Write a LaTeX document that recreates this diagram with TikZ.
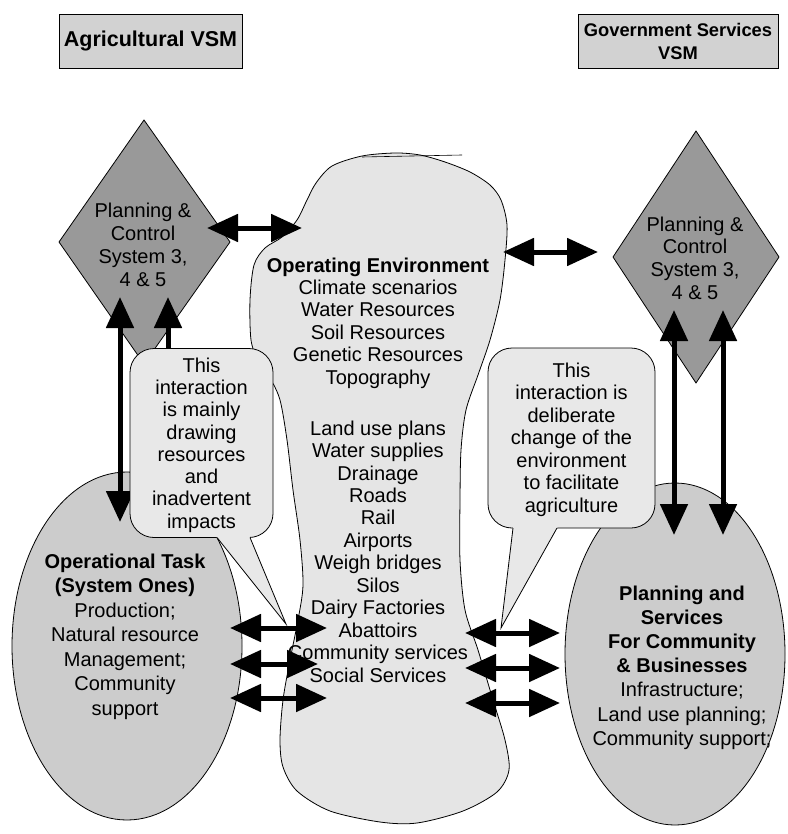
\documentclass[tikz,border=0pt]{standalone}
\usepackage{fontspec}
\setmainfont{Liberation Sans}
\usetikzlibrary{arrows.meta,shapes.geometric}
\definecolor{dgray}{RGB}{153,153,153}
\definecolor{egray}{RGB}{204,204,204}
\definecolor{bgray}{RGB}{229,229,229}
\definecolor{cgray}{RGB}{232,232,232}
\definecolor{tgray}{RGB}{210,210,210}
\begin{document}
\begin{tikzpicture}[x=1pt,y=-1pt,
  outline/.style={draw=black, line width=0.8pt},
  txt/.style={align=center, inner sep=0pt, font=\fontsize{20}{#1}\selectfont},
  txt/.default=22.5,
  titlebox/.style={outline, fill=tgray, inner sep=0pt, align=center},
  callout/.style={outline, fill=cgray, rounded corners=24pt, inner sep=0pt},
  oval/.style={outline, fill=egray, ellipse, inner sep=0pt},
  dbl/.style={line width=5pt, {Triangle[length=31pt,width=27pt]}-{Triangle[length=31pt,width=27pt]}}
]
\useasboundingbox (0,0) rectangle (787,834);

% title boxes
\node[titlebox, minimum width=183pt, minimum height=54pt, font=\fontsize{21.5}{24}\selectfont\bfseries] (t1) at (150.5,41) {Agricultural VSM};
\node[titlebox, minimum width=200pt, minimum height=54pt, font=\fontsize{18.3}{23}\selectfont\bfseries] (t2) at (678,41) {Government Services\\VSM};

% operating environment blob
\draw[outline, fill=bgray] plot[smooth cycle, tension=0.5] coordinates {
 (395,153) (420,155) (445,162) (470,172) (490,185) (501,200) (507,225)
 (505,260) (500,300) (490,340) (478,375) (466,410) (461,450) (460,500)
 (460,560) (465,610) (478,650) (493,700) (505,740) (509,770) (497,792)
 (463,811) (417,823) (380,822) (330,811) (297,791) (283,767) (280,740)
 (283,700) (290,660) (298,620) (303,585) (300,540) (293,490) (287,440)
 (280,400) (270,378) (258,360) (251,340) (250,300) (254,265) (265,248)
 (282,237) (297,220) (307,200) (316,183) (332,166) (362,156)};
\coordinate (topa) at (362,157);
\coordinate (topb) at (462,155);
\draw[line width=0.6pt] (topa) -- (topb);

\node[txt=22.4] (envA) at (378,323) {\textbf{Operating Environment}\\Climate scenarios\\Water Resources\\Soil Resources\\Genetic Resources\\Topography};
\node[txt=22.45] (envB) at (378,551.5) {Land use plans\\Water supplies\\Drainage\\Roads\\Rail\\Airports\\Weigh bridges\\Silos\\Dairy Factories\\Abattoirs\\Community services\\Social Services};

% diamonds
\coordinate (ldT) at (144,120); \coordinate (ldR) at (230,242);
\coordinate (ldB) at (144,364); \coordinate (ldL) at (59,242);
\draw[outline, fill=dgray] (ldT) -- (ldR) -- (ldB) -- (ldL) -- cycle;
\node[txt=23] (ldtext) at (143,245) {Planning \&\\Control\\System 3,\\4 \& 5};

\coordinate (rdT) at (696,131); \coordinate (rdR) at (779,257);
\coordinate (rdB) at (696,383); \coordinate (rdL) at (613,257);
\draw[outline, fill=dgray] (rdT) -- (rdR) -- (rdB) -- (rdL) -- cycle;
\node[txt=22.7] (rdtext) at (695,258) {Planning \&\\Control\\System 3,\\4 \& 5};

% ellipses
\node[oval, minimum width=230pt, minimum height=348pt] (le) at (127,646) {};
\node[oval, minimum width=220pt, minimum height=342pt] (re) at (675,654) {};
\node[txt=24.5] (letext) at (125,636.5) {\textbf{Operational Task}\\\textbf{(System Ones)}\\Production;\\Natural resource\\Management;\\Community\\support};
\node[txt=24.2] (retext) at (682,667.5) {\textbf{Planning and}\\\textbf{Services}\\\textbf{For Community}\\\textbf{\& Businesses}\\Infrastructure;\\Land use planning;\\Community support;};

% vertical arrows
\coordinate (lv1a) at (120,297); \coordinate (lv1b) at (120,522);
\coordinate (lv2a) at (168,297); \coordinate (lv2b) at (168,470);
\draw[dbl] (lv1a) -- (lv1b);
\draw[dbl] (lv2a) -- (lv2b);
\coordinate (rv1a) at (674,310); \coordinate (rv1b) at (674,535);
\coordinate (rv2a) at (723,310); \coordinate (rv2b) at (723,535);
\draw[dbl] (rv1a) -- (rv1b);
\draw[dbl] (rv2a) -- (rv2b);

% callouts
\node[callout, minimum width=143pt, minimum height=189pt] (lc) at (201.5,443) {};
\coordinate (lcp1) at (217,537.5); \coordinate (lcp2) at (250,537.5); \coordinate (lctip) at (286,624);
\fill[cgray] (215,535) -- (lctip) -- (249,535) -- cycle;
\draw[line width=0.8pt, line join=miter] (lcp1) -- (lctip) -- (lcp2);
\node[txt=22.3] (lctext) at (201.5,445) {This\\interaction\\is mainly\\drawing\\resources\\and\\inadvertent\\impacts};

\node[callout, minimum width=167pt, minimum height=180pt] (rc) at (571.5,438) {};
\coordinate (rcp1) at (513,528); \coordinate (rcp2) at (557,528); \coordinate (rctip) at (501,628);
\fill[cgray] (513.3,525.5) -- (rctip) -- (558.4,525.5) -- cycle;
\draw[line width=0.8pt, line join=miter] (rcp1) -- (rctip) -- (rcp2);
\node[txt=22.5] (rctext) at (571.5,439.5) {This\\interaction is\\deliberate\\change of the\\environment\\to facilitate\\agriculture};

% horizontal arrows
\coordinate (h1a) at (207,228); \coordinate (h1b) at (302,228);
\coordinate (h2a) at (503,252); \coordinate (h2b) at (598,252);
\draw[dbl] (h1a) -- (h1b);
\draw[dbl] (h2a) -- (h2b);

\coordinate (l1a) at (230,628); \coordinate (l1b) at (327,628);
\coordinate (l2a) at (230,664); \coordinate (l2b) at (318,664);
\coordinate (l3a) at (230,698); \coordinate (l3b) at (327,698);
\draw[dbl] (l1a) -- (l1b);
\draw[dbl] (l2a) -- (l2b);
\draw[dbl] (l3a) -- (l3b);

\coordinate (r1a) at (465,633); \coordinate (r1b) at (560,633);
\coordinate (r2a) at (465,668); \coordinate (r2b) at (560,668);
\coordinate (r3a) at (465,703); \coordinate (r3b) at (560,703);
\draw[dbl] (r1a) -- (r1b);
\draw[dbl] (r2a) -- (r2b);
\draw[dbl] (r3a) -- (r3b);
\end{tikzpicture}
\end{document}
